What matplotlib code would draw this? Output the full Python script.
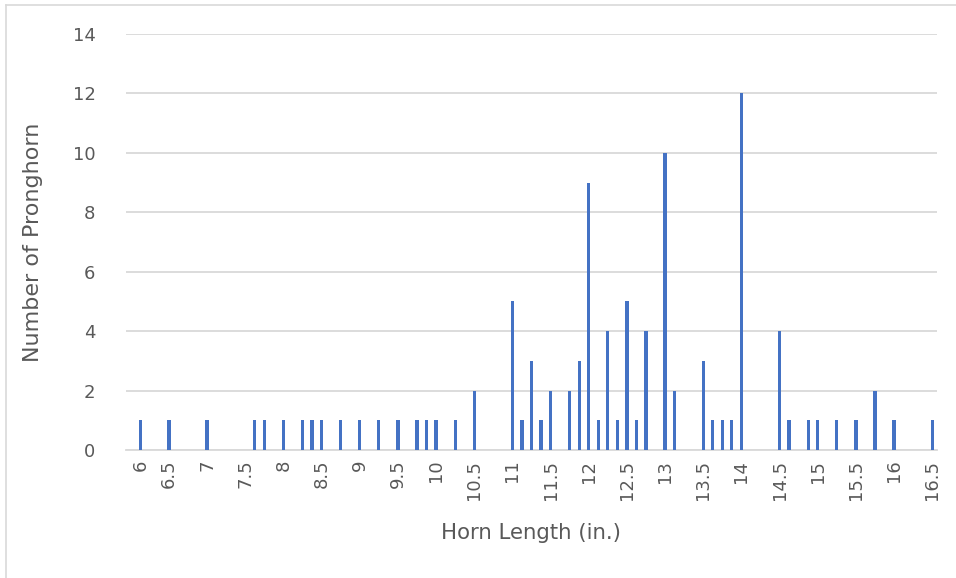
import matplotlib.pyplot as plt
from matplotlib.lines import Line2D

# horn length (in.) and number of pronghorn
lengths = [6, 6.5, 7, 7.625, 7.75, 8, 8.25, 8.375, 8.5, 8.75, 9, 9.25, 9.5,
           9.75, 9.875, 10, 10.25, 10.5, 11, 11.125, 11.25, 11.375, 11.5,
           11.75, 11.875, 12, 12.125, 12.25, 12.375, 12.5, 12.625, 12.75,
           13, 13.125, 13.5, 13.625, 13.75, 13.875, 14, 14.5, 14.625,
           14.875, 15, 15.25, 15.5, 15.75, 16, 16.5]
counts = [1, 1, 1, 1, 1, 1, 1, 1, 1, 1, 1, 1, 1,
          1, 1, 1, 1, 2, 5, 1, 3, 1, 2,
          2, 3, 9, 1, 4, 1, 5, 1, 4,
          10, 2, 3, 1, 1, 1, 12, 4, 1,
          1, 1, 1, 1, 2, 1, 1]

# Excel category axis: one blank slot, 6, two slots, then every 1/8 in.
categories = ["", "6", "6.25", "6.375"] + ["%g" % (6.5 + k / 8) for k in range(81)]
tick_labels = ["6", "6.5", "7", "7.5", "8", "8.5", "9", "9.5", "10", "10.5", "11",
               "11.5", "12", "12.5", "13", "13.5", "14", "14.5", "15", "15.5",
               "16", "16.5"]

grey_text = "#595959"
grid_col = "#D9D9D9"

fig = plt.figure(figsize=(9.56, 5.78), dpi=100)
ax = fig.add_axes([126 / 956, 1 - 450 / 578, (937 - 126) / 956, (450 - 34) / 578])

pos = [categories.index("%g" % v) for v in lengths]
ax.bar(pos, counts, width=0.34, color="#4472C4", zorder=3)

ax.set_xlim(-0.5, len(categories) - 0.5)
ax.set_ylim(0, 14)
ax.set_yticks(range(0, 15, 2))
ax.set_xticks([categories.index(t) for t in tick_labels])
ax.set_xticklabels(tick_labels, rotation=90)
ax.tick_params(length=0, labelsize=13, labelcolor=grey_text)
ax.tick_params(axis="y", pad=22)
ax.tick_params(axis="x", pad=7)
ax.grid(axis="y", color=grid_col, linewidth=1.3, zorder=0)
for s in ["top", "right", "left"]:
    ax.spines[s].set_visible(False)
ax.spines["bottom"].set_color(grid_col)
ax.spines["bottom"].set_linewidth(1.3)

fig.text(33 / 956, 1 - 242 / 578, "Number of Pronghorn", rotation=90,
         ha="center", va="center", fontsize=16, color=grey_text)
fig.text(531 / 956, 1 - 533 / 578, "Horn Length (in.)",
         ha="center", va="center", fontsize=15.3, color=grey_text)

# chart area border (only left and top visible)
fig.add_artist(Line2D([6 / 956, 6 / 956], [0, 1 - 5 / 578], transform=fig.transFigure,
                      color=grid_col, linewidth=1.2))
fig.add_artist(Line2D([6 / 956, 1], [1 - 5 / 578, 1 - 5 / 578], transform=fig.transFigure,
                      color=grid_col, linewidth=1.2))

fig.savefig("out.png", dpi=100)
